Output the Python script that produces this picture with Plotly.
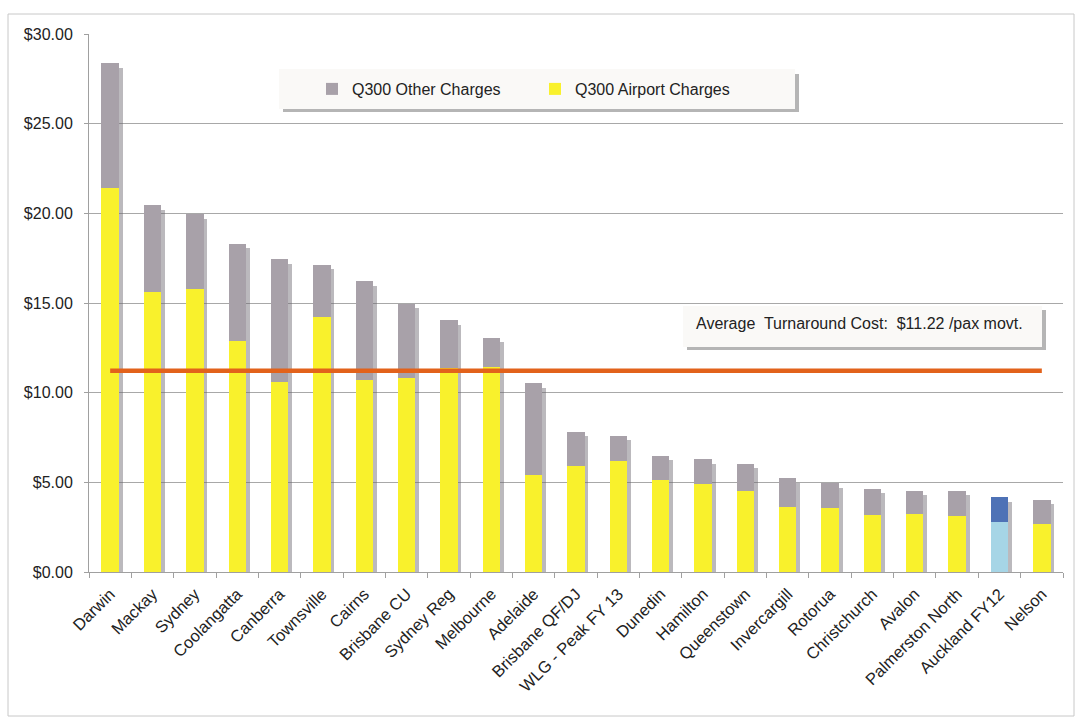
import plotly.graph_objects as go

# Per-passenger turnaround cost by airport (Q300 aircraft)
airports = [
    "Darwin", "Mackay", "Sydney", "Coolangatta", "Canberra", "Townsville",
    "Cairns", "Brisbane CU", "Sydney Reg", "Melbourne", "Adelaide",
    "Brisbane QF/DJ", "WLG - Peak FY 13", "Dunedin", "Hamilton", "Queenstown",
    "Invercargill", "Rotorua", "Christchurch", "Avalon", "Palmerston North",
    "Auckland FY12", "Nelson",
]
airport_charges = [
    21.43, 15.62, 15.78, 12.88, 10.58, 14.22, 10.71, 10.84, 11.40, 11.45,
    5.41, 5.93, 6.19, 5.13, 4.89, 4.52, 3.63, 3.59, 3.20, 3.25, 3.14, 2.77, 2.69,
]
other_charges = [
    6.94, 4.83, 4.17, 5.43, 6.86, 2.90, 5.50, 4.13, 2.64, 1.62,
    5.11, 1.90, 1.40, 1.34, 1.39, 1.52, 1.61, 1.37, 1.45, 1.29, 1.38, 1.40, 1.34,
]
highlighted = ["Auckland FY12"]
avg_cost = 11.22

FONT = "Liberation Sans, Arial, sans-serif"
YELLOW, GREY = "#F9F12C", "#A8A1A9"
LIGHT_BLUE, DARK_BLUE = "#A6D5E6", "#4E72B6"
BAR_W = 0.41

airport_colors = [LIGHT_BLUE if a in highlighted else YELLOW for a in airports]
other_colors = [DARK_BLUE if a in highlighted else GREY for a in airports]
totals = [a + o for a, o in zip(airport_charges, other_charges)]

# plot-area geometry (pixels) used to place the decorative boxes
L, R, T, B = 89, 1063, 34, 572


def px_x(p):
    return (p - L) / (R - L)


def px_y(p):
    return (B - p) / (B - T)


fig = go.Figure()

# soft drop shadow to the right of every column
fig.add_trace(go.Bar(
    x=airports, y=[t - 0.25 for t in totals], base=0,
    width=BAR_W, offset=-BAR_W / 2 + 0.09,
    marker=dict(color="rgba(105,100,108,0.45)", line=dict(width=0)),
    showlegend=False, hoverinfo="skip",
))
fig.add_trace(go.Bar(
    x=airports, y=other_charges, base=airport_charges,
    width=BAR_W, offset=-BAR_W / 2,
    name="Q300 Other Charges",
    marker=dict(color=other_colors, line=dict(width=0)),
    legendrank=1,
))
fig.add_trace(go.Bar(
    x=airports, y=airport_charges, base=0,
    width=BAR_W, offset=-BAR_W / 2,
    name="Q300 Airport Charges",
    marker=dict(color=airport_colors, line=dict(width=0)),
    legendrank=2,
))
fig.add_trace(go.Scatter(
    x=airports, y=[avg_cost] * len(airports), mode="lines",
    line=dict(color="#E2621B", width=4.5),
    showlegend=False, hoverinfo="skip",
))

shapes = [
    # outer chart frame
    dict(type="rect", xref="paper", yref="paper",
         x0=px_x(8), x1=px_x(1074), y0=px_y(716), y1=px_y(14),
         line=dict(color="#C8C8C8", width=1), fillcolor="rgba(0,0,0,0)", layer="below"),
    # legend box with shadow
    dict(type="rect", xref="paper", yref="paper",
         x0=px_x(283), x1=px_x(799), y0=px_y(112), y1=px_y(74),
         line=dict(width=0), fillcolor="rgba(120,120,120,0.55)", layer="above"),
    dict(type="rect", xref="paper", yref="paper",
         x0=px_x(279), x1=px_x(795), y0=px_y(109), y1=px_y(69),
         line=dict(width=0), fillcolor="#FAF9F7", layer="above"),
    # average note box with shadow
    dict(type="rect", xref="paper", yref="paper",
         x0=px_x(687), x1=px_x(1046), y0=px_y(350), y1=px_y(310),
         line=dict(width=0), fillcolor="rgba(120,120,120,0.55)", layer="above"),
    dict(type="rect", xref="paper", yref="paper",
         x0=px_x(683), x1=px_x(1042), y0=px_y(347), y1=px_y(306),
         line=dict(width=0), fillcolor="#FAF9F7", layer="above"),
]

fig.update_layout(
    width=1080, height=717,
    margin=dict(l=L, r=1080 - R, t=T, b=717 - B),
    paper_bgcolor="white", plot_bgcolor="white",
    barmode="overlay", bargap=0,
    font=dict(family=FONT, size=16, color="#222222"),
    shapes=shapes,
    legend=dict(
        orientation="h", x=px_x(312), xanchor="left",
        y=px_y(89), yanchor="middle",
        bgcolor="rgba(0,0,0,0)", borderwidth=0,
        font=dict(family=FONT, size=16, color="#222222"),
        entrywidth=178, entrywidthmode="pixels",
        traceorder="normal",
    ),
    annotations=[dict(
        xref="paper", yref="paper", x=px_x(694), y=px_y(323),
        xanchor="left", yanchor="middle", showarrow=False,
        text=f"Average\u00a0 Turnaround Cost:\u00a0 ${avg_cost:.2f} /pax movt.",
        font=dict(family=FONT, size=16, color="#222222"),
    )],
)
fig.update_xaxes(
    type="category", range=[-0.5, len(airports) - 0.5],
    tickangle=-45, tickfont=dict(family=FONT, size=16.5, color="#222222"),
    ticks="outside", tickson="boundaries", ticklen=5, tickcolor="#A0A0A0",
    showline=True, linecolor="#A0A0A0", linewidth=1,
    showgrid=False, ticklabelstandoff=5,
)
fig.update_yaxes(
    range=[0, 30], dtick=5, tickprefix="$", tickformat=".2f",
    tickfont=dict(family=FONT, size=16, color="#222222"),
    ticks="outside", ticklen=4, tickcolor="#A0A0A0",
    showline=True, linecolor="#A0A0A0", linewidth=1,
    showgrid=True, gridcolor="#A8A8A8", gridwidth=1,
    zeroline=False, ticklabelstandoff=8,
)

fig.write_html("out.html")
